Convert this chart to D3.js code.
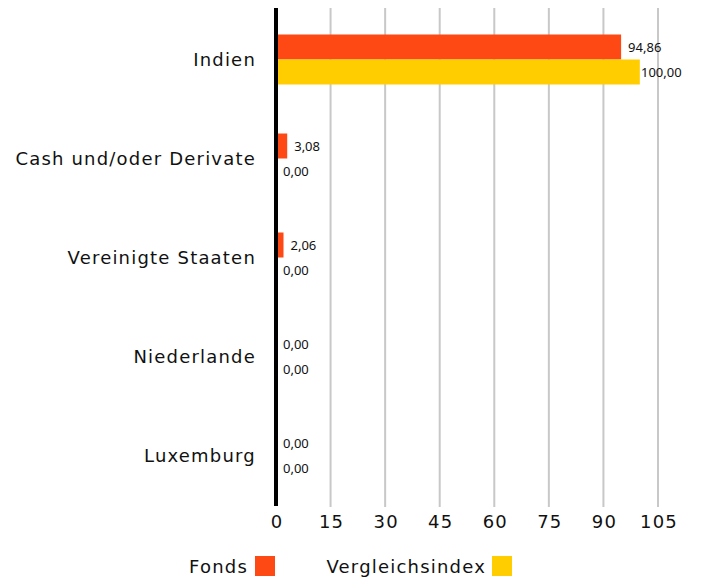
<!DOCTYPE html>
<html>
<head>
<meta charset="utf-8">
<script src="https://cdn.jsdelivr.net/npm/d3@7"></script>
<style>
body { margin: 0; background: #fff; font-family: "Noto Sans", sans-serif; }
.big { font-family: "DejaVu Sans", sans-serif; font-size: 18px; letter-spacing: 1.2px; fill: #111; }
</style>
</head>
<body>
<script>
var categories = ["Indien", "Cash und/oder Derivate", "Vereinigte Staaten", "Niederlande", "Luxemburg"];
var fonds = [94.86, 3.08, 2.06, 0, 0];
var vergleich = [100, 0, 0, 0, 0];
var seriesNames = ["Fonds", "Vergleichsindex"];
var colors = ["#ff4915", "#ffcd00"];
var ticks = [0, 15, 30, 45, 60, 75, 90, 105];

var w = 702, h = 583;
var svg = d3.select("body").append("svg").attr("width", w).attr("height", h);

var x = d3.scaleLinear().domain([0, 105]).range([276, 658]);
var y = d3.scaleBand().domain(categories).range([10, 505]);
var inner = d3.scaleBand().domain(seriesNames).range([0, 50]);
var fmt = function(v){ return v.toFixed(2).replace(".", ","); };

// grid
svg.selectAll(".grid").data(ticks.slice(1)).enter().append("line")
	.attr("x1", function(d){return x(d)}).attr("x2", function(d){return x(d)})
	.attr("y1", 8).attr("y2", 507)
	.attr("stroke", "#c8c8c8").attr("stroke-width", 2);

// tick labels
svg.selectAll(".tick").data(ticks).enter().append("text")
	.attr("class", "big")
	.attr("x", function(d){return x(d) + 1}).attr("y", 528)
	.attr("text-anchor", "middle")
	.text(function(d){return d});

var rows = categories.map(function(c, i){ return {cat: c, vals: [fonds[i], vergleich[i]]}; });
var g = svg.selectAll(".row").data(rows).enter().append("g")
	.attr("transform", function(d){ return "translate(0," + (y(d.cat) + y.bandwidth()/2 - 25) + ")"; });

g.selectAll("rect").data(function(d){ return d.vals; }).enter().append("rect")
	.attr("x", x(0))
	.attr("y", function(d, i){ return inner(seriesNames[i]); })
	.attr("width", function(d){ return x(d) - x(0); })
	.attr("height", inner.bandwidth())
	.attr("fill", function(d, i){ return colors[i]; });

g.selectAll(".val").data(function(d){ return d.vals; }).enter().append("text")
	.attr("x", function(d){ return Math.min(x(d) + 7, 641); })
	.attr("y", function(d, i){ return inner(seriesNames[i]) + inner.bandwidth()/2; })
	.attr("dy", "0.35em").attr("font-size", 13).attr("fill", "#111")
	.text(fmt);

// category labels
svg.selectAll(".cat").data(categories).enter().append("text")
	.attr("class", "big")
	.attr("x", 256).attr("y", function(d){ return y(d) + y.bandwidth()/2; })
	.attr("dy", "0.35em").attr("text-anchor", "end")
	.text(function(d){return d});

// axis line
svg.append("line").attr("x1", x(0)).attr("x2", x(0)).attr("y1", 8).attr("y2", 506)
	.attr("stroke", "#000").attr("stroke-width", 4);

// legend
var leg = [{name: "Fonds", tx: 248, sq: 255}, {name: "Vergleichsindex", tx: 486, sq: 492}];
leg.forEach(function(l, i){
	svg.append("text").attr("class", "big").attr("x", l.tx).attr("y", 573).attr("text-anchor", "end")
		.text(l.name);
	svg.append("rect").attr("x", l.sq).attr("y", 556).attr("width", 20).attr("height", 20)
		.attr("fill", colors[i]);
});
</script>
</body>
</html>
